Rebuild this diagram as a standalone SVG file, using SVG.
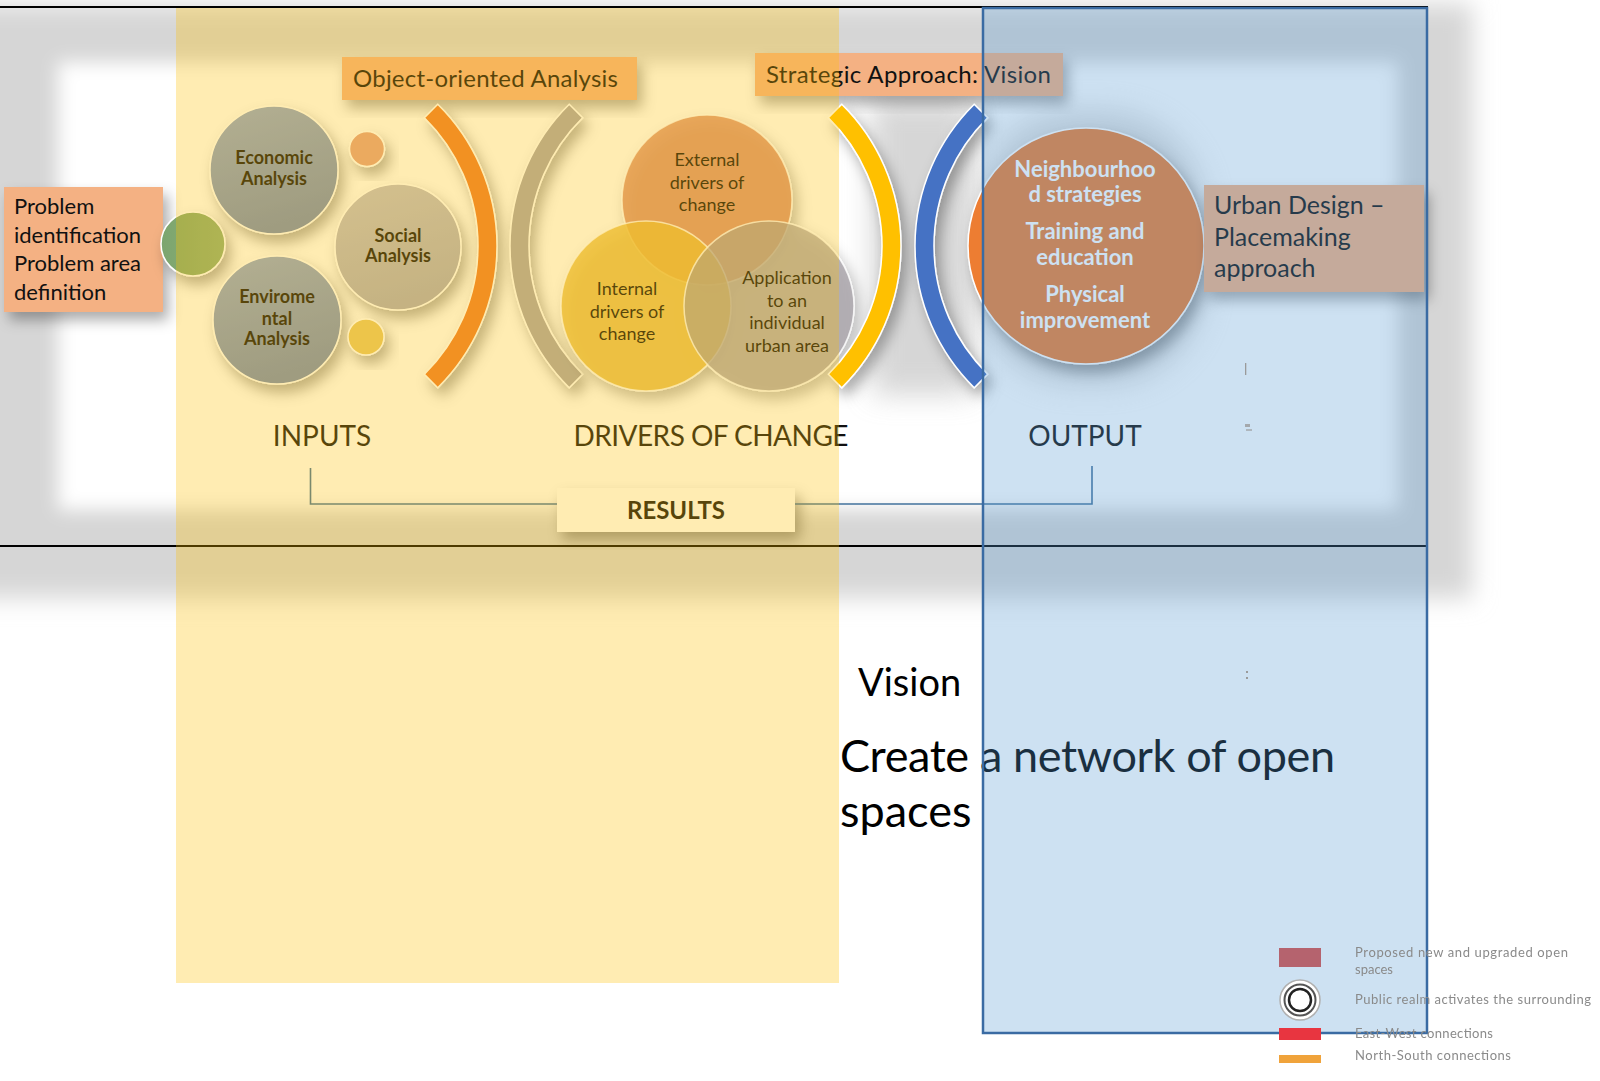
<svg xmlns="http://www.w3.org/2000/svg" width="1600" height="1081" viewBox="0 0 1600 1081">
<defs>
<filter id="bl" x="-10%" y="-15%" width="120%" height="130%"><feGaussianBlur stdDeviation="12"/></filter>
<filter id="bl2" x="-10%" y="-15%" width="120%" height="130%"><feGaussianBlur stdDeviation="9"/></filter>
<filter id="bl3" x="-40%" y="-20%" width="180%" height="140%"><feGaussianBlur stdDeviation="14"/></filter>
<filter id="sh" x="-30%" y="-30%" width="170%" height="170%"><feDropShadow dx="5" dy="8" stdDeviation="7" flood-color="#000" flood-opacity="0.33"/></filter>
<filter id="soft" x="-5%" y="-20%" width="110%" height="140%"><feGaussianBlur stdDeviation="0.35"/></filter>
<linearGradient id="gEco" x1="0" y1="0" x2="0.3" y2="1"><stop offset="0" stop-color="#93A9D2"/><stop offset="1" stop-color="#768DB8"/></linearGradient>
<linearGradient id="gSoc" x1="0" y1="0" x2="0.3" y2="1"><stop offset="0" stop-color="#C2C1CC"/><stop offset="1" stop-color="#ACADBB"/></linearGradient>
<linearGradient id="gGreen" x1="0" y1="0" x2="1" y2="0"><stop offset="0" stop-color="#7CA56E"/><stop offset="1" stop-color="#8EB078"/></linearGradient>
</defs>
<style>
.f{font-family:Lato,"Liberation Sans",sans-serif}
.box{fill:#F4B183}
.ol{stroke:#FFFFFF;stroke-width:1.5}
.dk{fill:#111111}
.bt{font-weight:bold}
.mid{text-anchor:middle}
.lg{fill:#8A8A8A;font-size:13px}
</style>
<rect width="1600" height="1081" fill="#FFFFFF"/>
<g id="background">
<rect x="-40" y="4" width="1512" height="594" fill="#D6D6D6" filter="url(#bl)"/>
<rect x="58" y="62" width="1340" height="448" fill="#FFFFFF" filter="url(#bl2)"/>
<rect x="872" y="100" width="100" height="295" fill="#C9C9C9" opacity="0.75" filter="url(#bl3)"/>
<rect x="975" y="110" width="230" height="275" rx="100" fill="#BDBDBD" opacity="0.5" filter="url(#bl3)"/>
</g>
<g id="problem" filter="url(#sh)">
<rect class="box" x="4" y="187" width="159" height="125"/>
</g>
<g id="problem-text" class="f dk" font-size="22">
<text x="14" y="214">Problem</text>
<text x="14" y="242.5">identification</text>
<text x="14" y="271">Problem area</text>
<text x="14" y="299.5">definition</text>
</g>
<g id="green-dot" filter="url(#sh)"><circle cx="193" cy="244" r="32" fill="url(#gGreen)" class="ol"/></g>
<g id="economic">
<circle cx="274" cy="170" r="64" fill="url(#gEco)" class="ol" filter="url(#sh)"/>
<text class="f dk bt mid" font-size="18" x="274" y="164">Economic</text>
<text class="f dk bt mid" font-size="18" x="274" y="185">Analysis</text>
</g>
<g id="social">
<circle cx="398" cy="247" r="63" fill="url(#gSoc)" class="ol" filter="url(#sh)"/>
<text class="f dk bt mid" font-size="18" x="398" y="242">Social</text>
<text class="f dk bt mid" font-size="18" x="398" y="262">Analysis</text>
</g>
<g id="environmental">
<circle cx="277" cy="320" r="64" fill="url(#gEco)" class="ol" filter="url(#sh)"/>
<text class="f dk bt mid" font-size="18" x="277" y="303">Envirome</text>
<text class="f dk bt mid" font-size="18" x="277" y="325">ntal</text>
<text class="f dk bt mid" font-size="18" x="277" y="345">Analysis</text>
</g>
<g id="dot-orange" filter="url(#sh)"><circle cx="367" cy="149" r="17.5" fill="#E2A189" class="ol"/></g>
<g id="dot-yellow" filter="url(#sh)"><circle cx="366" cy="337" r="18" fill="#E5C76B" class="ol"/></g>
<g id="object-analysis">
<rect class="box" x="342" y="57" width="295" height="43" filter="url(#sh)"/>
<text class="f dk" font-size="24" x="353" y="87" textLength="265">Object-oriented Analysis</text>
</g>
<g id="arc-orange" filter="url(#sh)"><path d="M437.74,104.31 A199,199 0 0 1 437.74,387.69 L424.4,374.16 A180,180 0 0 0 424.4,117.84 Z" fill="#ED7D31" class="ol"/></g>
<g id="arc-tan" filter="url(#sh)"><path d="M569.26,104.31 A199,199 0 0 0 569.26,387.69 L582.6,374.16 A180,180 0 0 1 582.6,117.84 Z" fill="#A9A7AD" class="ol"/></g>
<g id="venn" filter="url(#sh)">
<circle cx="707" cy="200" r="85" fill="#D88867" fill-opacity="0.82" stroke="#FFFFFF" stroke-opacity="0.8" stroke-width="1.5"/>
<circle cx="646" cy="306" r="85" fill="#E7BB43" fill-opacity="0.8" stroke="#FFFFFF" stroke-opacity="0.8" stroke-width="1.5"/>
<circle cx="769" cy="306" r="85" fill="#A29DA3" fill-opacity="0.72" stroke="#FFFFFF" stroke-opacity="0.8" stroke-width="1.5"/>
</g>
<g id="external" class="f dk mid" font-size="18">
<text x="707" y="166">External</text>
<text x="707" y="189">drivers of</text>
<text x="707" y="211">change</text>
</g>
<g id="internal" class="f dk mid" font-size="18">
<text x="627" y="295">Internal</text>
<text x="627" y="318">drivers of</text>
<text x="627" y="340">change</text>
</g>
<g id="application" class="f dk mid" font-size="18">
<text x="787" y="284">Application</text>
<text x="787" y="307">to an</text>
<text x="787" y="329">individual</text>
<text x="787" y="352">urban area</text>
</g>
<g id="strategic">
<rect class="box" x="755" y="53" width="308" height="43" filter="url(#sh)"/>
<text class="f dk" font-size="24" x="766" y="83" textLength="285">Strategic Approach: Vision</text>
</g>
<g id="arc-yellow" filter="url(#sh)"><path d="M841.74,104.31 A199,199 0 0 1 841.74,387.69 L828.4,374.16 A180,180 0 0 0 828.4,117.84 Z" fill="#FFC000" class="ol"/></g>
<g id="arc-blue" filter="url(#sh)"><path d="M974.26,104.31 A199,199 0 0 0 974.26,387.69 L987.6,374.16 A180,180 0 0 1 987.6,117.84 Z" fill="#4472C4" class="ol"/></g>
<g id="output-circle">
<circle cx="1086" cy="246" r="118" fill="#ED7D31" stroke="#FFFFFF" stroke-width="1.5" filter="url(#sh)"/>
<g class="f bt mid" font-size="22" fill="#FFFFFF">
<text x="1085" y="177">Neighbourhoo</text>
<text x="1085" y="202">d strategies</text>
<text x="1085" y="239">Training and</text>
<text x="1085" y="265">education</text>
<text x="1085" y="302">Physical</text>
<text x="1085" y="328">improvement</text>
</g>
</g>
<g id="urban-design">
<rect class="box" x="1204" y="185" width="220" height="107" filter="url(#sh)"/>
<g class="f dk" font-size="25">
<text x="1214" y="214">Urban Design –</text>
<text x="1214" y="246">Placemaking</text>
<text x="1214" y="277">approach</text>
</g>
</g>
<g id="labels" class="f dk mid" font-size="28">
<text x="322" y="446">INPUTS</text>
<text x="711" y="446" textLength="275">DRIVERS OF CHANGE</text>
<text x="1085" y="446">OUTPUT</text>
</g>
<g id="results">
<rect x="557" y="488" width="238" height="44" fill="#FFFFFF" filter="url(#sh)"/>
<text class="f dk bt mid" font-size="24" x="676" y="519">RESULTS</text>
</g>
<g id="connectors" fill="none" stroke="#41719C" stroke-width="1.6">
<polyline points="310.5,468 310.5,504 557,504"/>
<polyline points="795,504 1092,504 1092,466"/>
</g>
<g id="vision">
<text class="f" fill="#000" font-size="38" x="858" y="696">Vision</text>
<text class="f" fill="#000" font-size="45" x="840" y="772" textLength="495">Create a network of open</text>
<text class="f" fill="#000" font-size="45" x="840" y="827">spaces</text>
</g>
<g id="frame"><rect x="-3" y="7" width="1430" height="539" fill="none" stroke="#000" stroke-width="2"/></g>
<g id="overlays">
<rect x="176" y="8" width="663" height="975" fill="#FFC000" fill-opacity="0.3"/>
<rect x="983" y="8" width="444" height="1025" fill="#5B9BD5" fill-opacity="0.3" stroke="#3A6BA3" stroke-width="2.5"/>
</g>
<g id="artifacts" fill="#9A9A9A">
<rect x="1245" y="363" width="1.3" height="12"/>
<rect x="1245" y="424" width="5" height="3" opacity="0.8"/>
<rect x="1246" y="429" width="6" height="2" opacity="0.6"/>
<rect x="1246" y="671" width="2" height="2"/>
<rect x="1246" y="677" width="2" height="2"/>
</g>
<g id="legend" filter="url(#soft)">
<rect x="1279" y="948" width="42" height="19" fill="#B5646E"/>
<circle cx="1300" cy="1000" r="20" fill="#FFFFFF" stroke="#B0B0B0" stroke-width="1.5"/>
<circle cx="1300" cy="1000" r="15.5" fill="none" stroke="#555" stroke-width="2"/>
<circle cx="1300" cy="1000" r="11" fill="#FFFFFF" stroke="#222" stroke-width="2.5"/>
<rect x="1279" y="1028" width="42" height="12" fill="#E8353F"/>
<rect x="1279" y="1055" width="42" height="8" fill="#F0A33A"/>
<g class="f lg">
<text x="1355" y="957" textLength="213">Proposed new and upgraded open</text>
<text x="1355" y="974">spaces</text>
<text x="1355" y="1004" textLength="236">Public realm activates the surrounding</text>
<text x="1355" y="1038" textLength="138">East-West connections</text>
<text x="1355" y="1060" textLength="156">North-South connections</text>
</g>
</g>
</svg>
